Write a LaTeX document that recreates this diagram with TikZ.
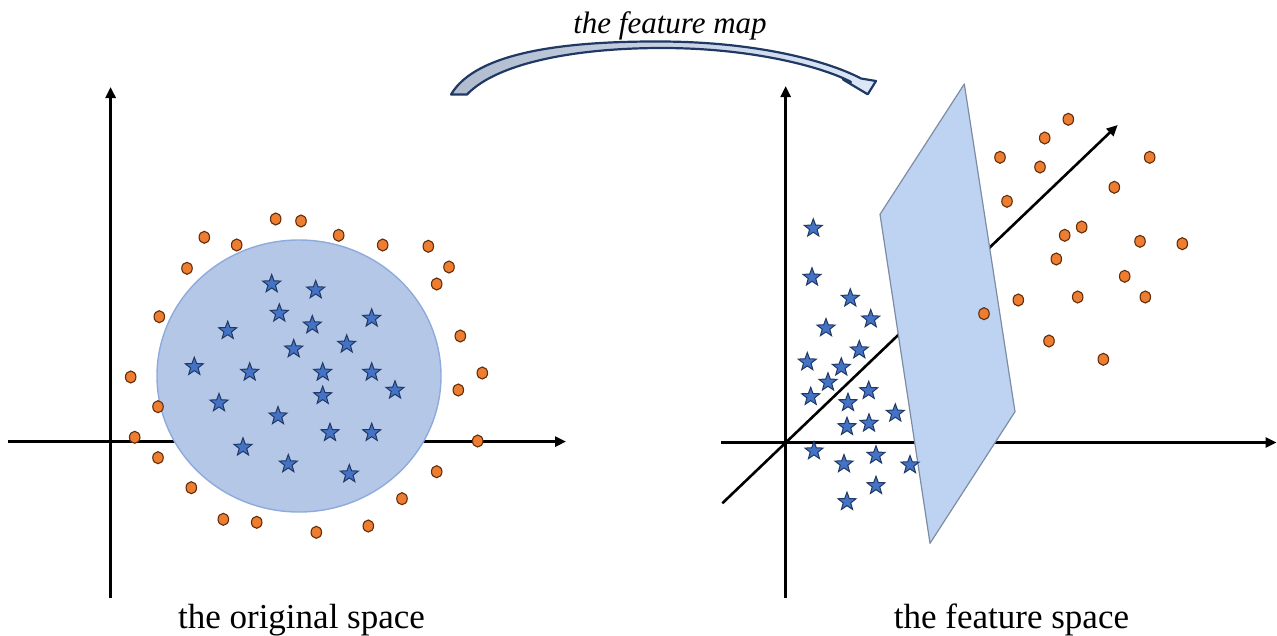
\documentclass[tikz,border=0pt]{standalone}
\usepackage{fontspec}
\setmainfont{Liberation Serif}
\usetikzlibrary{arrows.meta,shapes.geometric}
\definecolor{starblue}{RGB}{68,114,196}
\definecolor{stardark}{RGB}{32,56,100}
\definecolor{dotorange}{RGB}{237,125,49}
\definecolor{dotbrown}{RGB}{100,45,10}
\definecolor{circfill}{RGB}{180,199,231}
\definecolor{circline}{RGB}{143,170,220}
\definecolor{planefill}{RGB}{190,211,241}
\definecolor{planeline}{RGB}{125,140,165}
\definecolor{navy}{RGB}{31,56,100}
\definecolor{arrowleft}{RGB}{176,188,206}
\definecolor{arrowright}{RGB}{220,232,248}
\tikzset{
  starpt/.style={star, star points=5, star point ratio=2.4, minimum size=19pt, inner sep=0pt,
    fill=starblue, draw=stardark, line width=1pt},
  dotpt/.style={ellipse, minimum width=10.5pt, minimum height=12pt, inner sep=0pt,
    fill=dotorange, draw=dotbrown, line width=1.1pt},
  axisline/.style={line width=2.6pt, -{Triangle[length=11pt,width=10pt]}},
  label/.style={anchor=base, inner sep=0pt, font=\fontsize{35}{40}\selectfont},
  maplabel/.style={anchor=base, inner sep=0pt, font=\fontsize{31}{34}\selectfont\itshape},
  bigarrow/.style={draw=navy, line width=2.2pt, line join=round, left color=arrowleft, right color=arrowright}
}
\begin{document}
\begin{tikzpicture}[x=1pt,y=-1pt]
\useasboundingbox (0,0) rectangle (1277,635);

% ---------- left panel ----------
\coordinate (lvb) at (110.6,598);
\coordinate (lvt) at (110.6,87);
\coordinate (lhl) at (8,441.6);
\coordinate (lhr) at (566,441.6);
\draw[axisline] (lvb) -- (lvt);
\draw[axisline] (lhl) -- (lhr);
\node[ellipse, minimum width=284pt, minimum height=272pt, inner sep=0pt,
      fill=circfill, draw=circline, line width=1.4pt] (circ) at (299,376) {};

\foreach \x/\y [count=\i] in {271.7/284,315.7/290,279.3/313.3,312.3/325,371.7/318.3,227.7/330.7,
  346.7/344.3,293.7/349,194.3/366.7,249.7/372.3,322.7/372.3,371.7/372.3,395/390.3,322.7/395.7,
  219/403,278/416,330/432.7,371.7/432.7,243/447.3,288.3/464,349.3/474}
  \node[starpt] (ls\i) at (\x,\y) {};

\foreach \x/\y [count=\i] in {275.7/219,301/221,204.3/237.3,236.7/245,338.7/235.3,382.7/245,
  428.3/246.3,449/267,436.7/284,187/268.3,159.3/316.7,460.3/336,482.3/373,130.7/377,458.3/390,
  158/406.7,134.7/437.3,477.7/441,158/457.7,436.7/471.7,191.3/487.7,402/498.7,223.3/519.3,
  256.7/522.3,368.3/526,316.3/532.3}
  \node[dotpt] (ld\i) at (\x,\y) {};

\node[label] (lcap) at (301.5,628) {the original space};

% ---------- right panel ----------
\coordinate (rvb) at (785.7,598);
\coordinate (rvt) at (785.7,86);
\coordinate (rhl) at (721,442.5);
\coordinate (rhr) at (1276.5,442.5);
\coordinate (rdl) at (722.3,503.3);
\coordinate (rdr) at (1117.7,125);
\draw[axisline] (rvb) -- (rvt);
\draw[axisline] (rhl) -- (rhr);
\draw[axisline] (rdl) -- (rdr);

\coordinate (pt) at (964.3,84);
\coordinate (pl) at (880,214.3);
\coordinate (pb) at (930,543.3);
\coordinate (pr) at (1015,411.7);
\draw[fill=planefill, draw=planeline, line width=1.2pt, line join=round] (pt) -- (pl) -- (pb) -- (pr) -- cycle;

\foreach \x/\y [count=\i] in {813.3/228.3,812/277.3,850.3/298.3,870.7/319,826/328,859.3/350,
  807.3/362,841.3/367.3,828/382.3,868.7/390.7,810.7/396.7,848/402.7,895.3/413.3,847/426.7,
  869/423.3,814/451,844/464,876/455.3,910/465,876/485.7,847/501.7}
  \node[starpt] (rs\i) at (\x,\y) {};

\foreach \x/\y [count=\i] in {1068.3/119.3,1044.7/138,1000/157.3,1040/167,1149.7/157.3,
  1114.3/187.3,1007/201.3,1081.7/227,1064.7/235.3,1140/241.3,1182.3/243.7,1056.3/259,
  1124.7/276.3,1018.3/300,1077.7/297,1145.3/297,984/313.7,1049/341,1103.3/359.3}
  \node[dotpt] (rd\i) at (\x,\y) {};

\node[label] (rcap) at (1011.5,628) {the feature space};

% ---------- feature map arrow ----------
\draw[bigarrow] (451,94.5) .. controls (476,52) and (565,41) .. (662,41.5)
  .. controls (760,42) and (830,62) .. (861,78.5) -- (876,81) -- (867.7,94.3) -- (843,79.5)
  -- (851,82) .. controls (825,68) and (755,48) .. (662,48)
  .. controls (575,48) and (497,63) .. (467,94.5) -- cycle;
\node[maplabel] (mapcap) at (670,33) {the feature map};
\end{tikzpicture}
\end{document}
